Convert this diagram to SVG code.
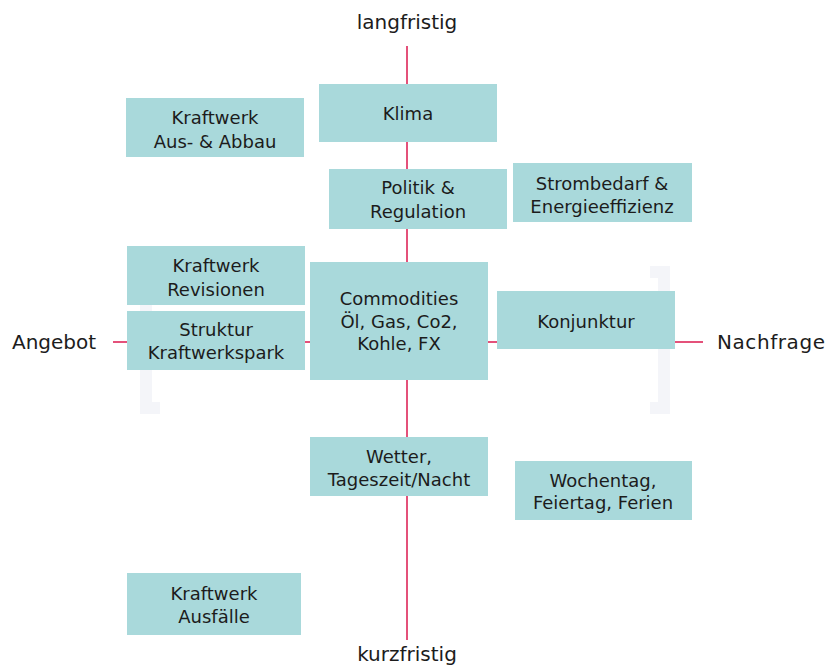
<svg xmlns="http://www.w3.org/2000/svg" width="827" height="668" viewBox="0 0 827 668">
<style>
.box{fill:#a9d9db;}
.t{font-family:"DejaVu Sans","Liberation Sans",sans-serif;font-size:18px;fill:#1c1c1c;text-anchor:middle;}
.ax{font-family:"DejaVu Sans","Liberation Sans",sans-serif;font-size:20px;fill:#1c1c1c;}
.axis{stroke:#e4517a;stroke-width:2;fill:none;}
.wm{fill:none;stroke:#f4f5f9;stroke-width:12;}
</style>
<rect width="827" height="668" fill="#ffffff"/>
<g id="watermark">
<path class="wm" d="M160,272 H146 V408 H160"/>
<path class="wm" d="M650,272 H664 V408 H650"/>
</g>
<g id="connectors">
<line class="axis" x1="407" y1="46" x2="407" y2="640"/>
<line class="axis" x1="113" y1="342" x2="703" y2="342"/>
</g>
<g id="axis-labels">
<text class="ax" x="407" y="29" text-anchor="middle">langfristig</text>
<text class="ax" x="407" y="661" text-anchor="middle">kurzfristig</text>
<text class="ax" x="12" y="349">Angebot</text>
<text class="ax" x="717" y="349" textLength="108" lengthAdjust="spacing">Nachfrage</text>
</g>
<g id="n-abbau"><rect class="box" x="126" y="98" width="178" height="59"/><text class="t" x="215" y="124">Kraftwerk</text><text class="t" x="215" y="148">Aus- &amp; Abbau</text></g>
<g id="n-klima"><rect class="box" x="319" y="84" width="178" height="58"/><text class="t" x="408" y="120">Klima</text></g>
<g id="n-politik"><rect class="box" x="329" y="169" width="178" height="60"/><text class="t" x="418" y="194">Politik &amp;</text><text class="t" x="418" y="218">Regulation</text></g>
<g id="n-strombedarf"><rect class="box" x="513" y="163" width="179" height="59"/><text class="t" x="602" y="190">Strombedarf &amp;</text><text class="t" x="602" y="213">Energieeffizienz</text></g>
<g id="n-revisionen"><rect class="box" x="127" y="246" width="178" height="59"/><text class="t" x="216" y="272">Kraftwerk</text><text class="t" x="216" y="296">Revisionen</text></g>
<g id="n-struktur"><rect class="box" x="127" y="311" width="178" height="59"/><text class="t" x="216" y="336">Struktur</text><text class="t" x="216" y="359">Kraftwerkspark</text></g>
<g id="n-commodities"><rect class="box" x="310" y="262" width="178" height="118"/><text class="t" x="399" y="305">Commodities</text><text class="t" x="399" y="328">Öl, Gas, Co2,</text><text class="t" x="399" y="350">Kohle, FX</text></g>
<g id="n-konjunktur"><rect class="box" x="497" y="291" width="178" height="58"/><text class="t" x="586" y="328">Konjunktur</text></g>
<g id="n-wetter"><rect class="box" x="310" y="437" width="178" height="59"/><text class="t" x="399" y="463">Wetter,</text><text class="t" x="399" y="486">Tageszeit/Nacht</text></g>
<g id="n-wochentag"><rect class="box" x="515" y="461" width="177" height="59"/><text class="t" x="603" y="487">Wochentag,</text><text class="t" x="603" y="509">Feiertag, Ferien</text></g>
<g id="n-ausfaelle"><rect class="box" x="127" y="573" width="174" height="62"/><text class="t" x="214" y="600">Kraftwerk</text><text class="t" x="214" y="623">Ausfälle</text></g>
</svg>
